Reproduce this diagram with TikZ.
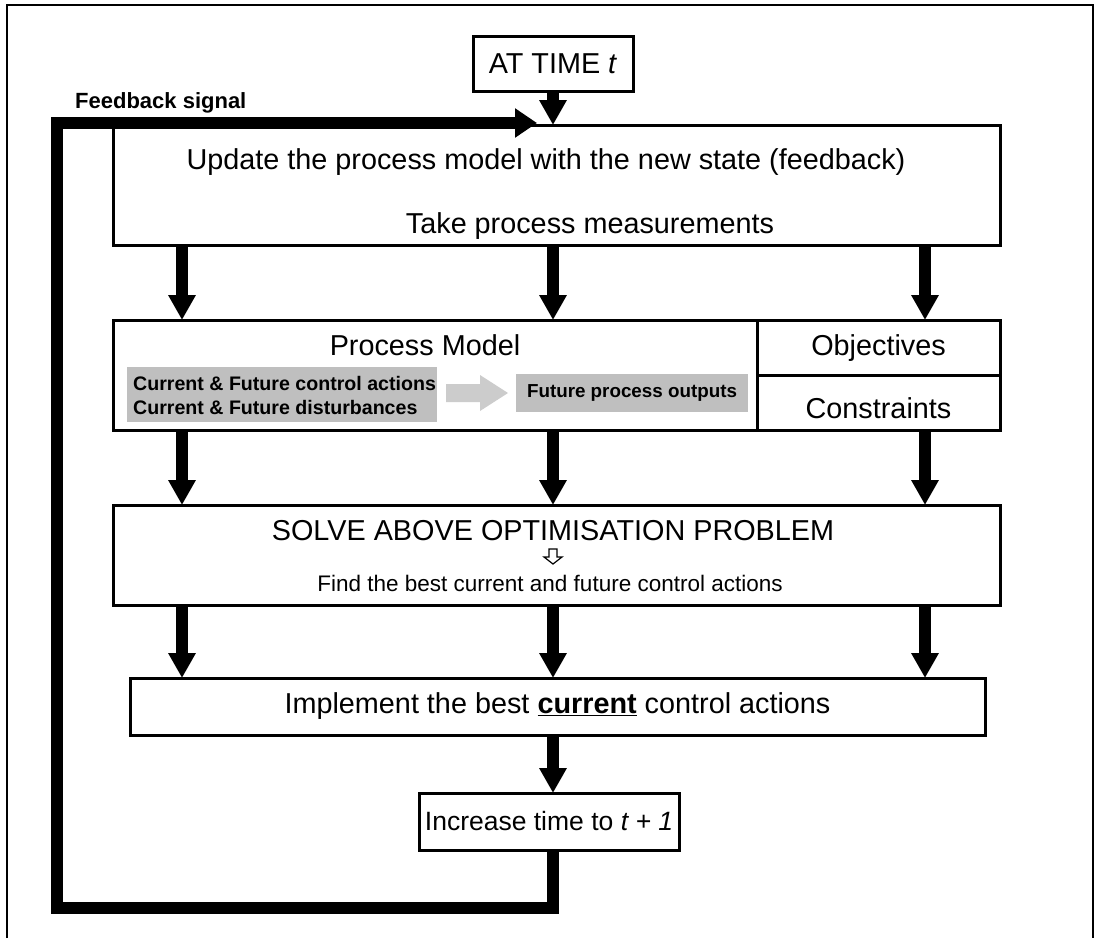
\documentclass[tikz,border=0pt]{standalone}
\usepackage{fontspec}
\setmainfont{Liberation Sans}
\usetikzlibrary{arrows.meta}
\begin{document}
\begin{tikzpicture}[x=1pt,y=-1pt,
  box/.style={draw,line width=3pt,fill=white,inner sep=0pt,outer sep=0pt},
  big/.style={font=\fontsize{28.8}{34}\selectfont,inner sep=0pt},
  small/.style={font=\fontsize{18.8}{22}\selectfont\bfseries,inner sep=0pt},
  note/.style={font=\fontsize{22.5}{26}\selectfont,inner sep=0pt},
  flow/.style={line width=12pt,-{Triangle[length=25pt,width=26pt]}},
  shade/.style={fill=black!25,draw=none},
  ]
\useasboundingbox (0,0) rectangle (1098,938);
% outer frame, open at the bottom
\draw[line width=2pt] (7,938) -- (7,5) -- (1093,5) -- (1093,938);

% columns of the parallel arrows
\coordinate (c1) at (182,0);
\coordinate (c2) at (553,0);
\coordinate (c3) at (925,0);

% boxes
\node[box,minimum width=160pt,minimum height=55pt] (t0) at (553,63.5) {};
\node[box,minimum width=887pt,minimum height=120pt] (upd) at (556.5,185) {};
\node[box,minimum width=644pt,minimum height=110pt] (model) at (435,375) {};
\node[box,minimum width=243pt,minimum height=55pt] (obj) at (878.5,347.5) {};
\node[box,minimum width=243pt,minimum height=55pt] (cons) at (878.5,402.5) {};
\node[box,minimum width=887pt,minimum height=100pt] (solve) at (556.5,555) {};
\node[box,minimum width=855pt,minimum height=57pt] (impl) at (557.5,706.5) {};
\node[box,minimum width=260pt,minimum height=57pt] (inc) at (549,821.5) {};

% texts
\node[font=\fontsize{22}{25}\selectfont\bfseries,inner sep=0pt,anchor=base west] (fbl) at (75,108) {Feedback signal};
\node[big] (t0txt) at (t0.center) {AT TIME \textit{t}};
\node[big] (upd1) at (546,162) {Update the process model with the new state (feedback)};
\node[big] (upd2) at (590,226) {Take process measurements};
\node[big] (pm) at (425,345) {Process Model};
\node[big] (objtxt) at (878.5,348) {Objectives};
\node[big] (constxt) at (878.5,408) {Constraints};
\node[big] (solvetxt) at (553,531) {SOLVE ABOVE OPTIMISATION PROBLEM};
\node[note] (findtxt) at (550,583) {Find the best current and future control actions};
\node[big] (impltxt) at (impl.center) {Implement the best \underline{\textbf{current}} control actions};
\node[font=\fontsize{26.5}{31}\selectfont,inner sep=0pt] (inctxt) at (inc.center) {Increase time to \textit{t + 1}};

% process model: inputs -> outputs
\node[shade,minimum width=310pt,minimum height=55pt,inner sep=0pt] (inputs) at (282,394.5) {};
\node[small,font=\fontsize{19.6}{22}\selectfont\bfseries,anchor=west] (in1) at (133,383) {Current \& Future control actions};
\node[small,font=\fontsize{19.6}{22}\selectfont\bfseries,anchor=west] (in2) at (133,407) {Current \& Future disturbances};
\node[shade,minimum width=232pt,minimum height=38pt,inner sep=0pt] (outputs) at (632,393) {};
\node[small] (outtxt) at (outputs.center) {Future process outputs};
\fill[black!20] (446,384) -- (480,384) -- (480,375) -- (508,393) -- (480,411) -- (480,402) -- (446,402) -- cycle;

% small hollow arrow inside the optimisation box
\draw[line width=1.2pt,line join=miter] (549,549) -- (557,549) -- (557,557) -- (562,557) -- (553,564) -- (544,557) -- (549,557) -- cycle;

% main flow
\draw[flow] (t0.south) -- (c2 |- upd.north);
\foreach \c in {c1,c2} {
  \draw[flow] (\c |- upd.south) -- (\c |- model.north);
  \draw[flow] (\c |- model.south) -- (\c |- solve.north);
  \draw[flow] (\c |- solve.south) -- (\c |- impl.north);
}
\draw[flow] (c3 |- upd.south) -- (c3 |- obj.north);
\draw[flow] (c3 |- cons.south) -- (c3 |- solve.north);
\draw[flow] (c3 |- solve.south) -- (c3 |- impl.north);
\draw[flow] (c2 |- impl.south) -- (c2 |- inc.north);

% feedback loop
\coordinate (fbCorner) at (57,908);
\coordinate (fbEnd) at (537,123);
\draw[line width=12pt,line join=miter,-{Triangle[length=22pt,width=28pt]}]
  (c2 |- inc.south) |- (fbCorner) |- (fbEnd);
\end{tikzpicture}
\end{document}
